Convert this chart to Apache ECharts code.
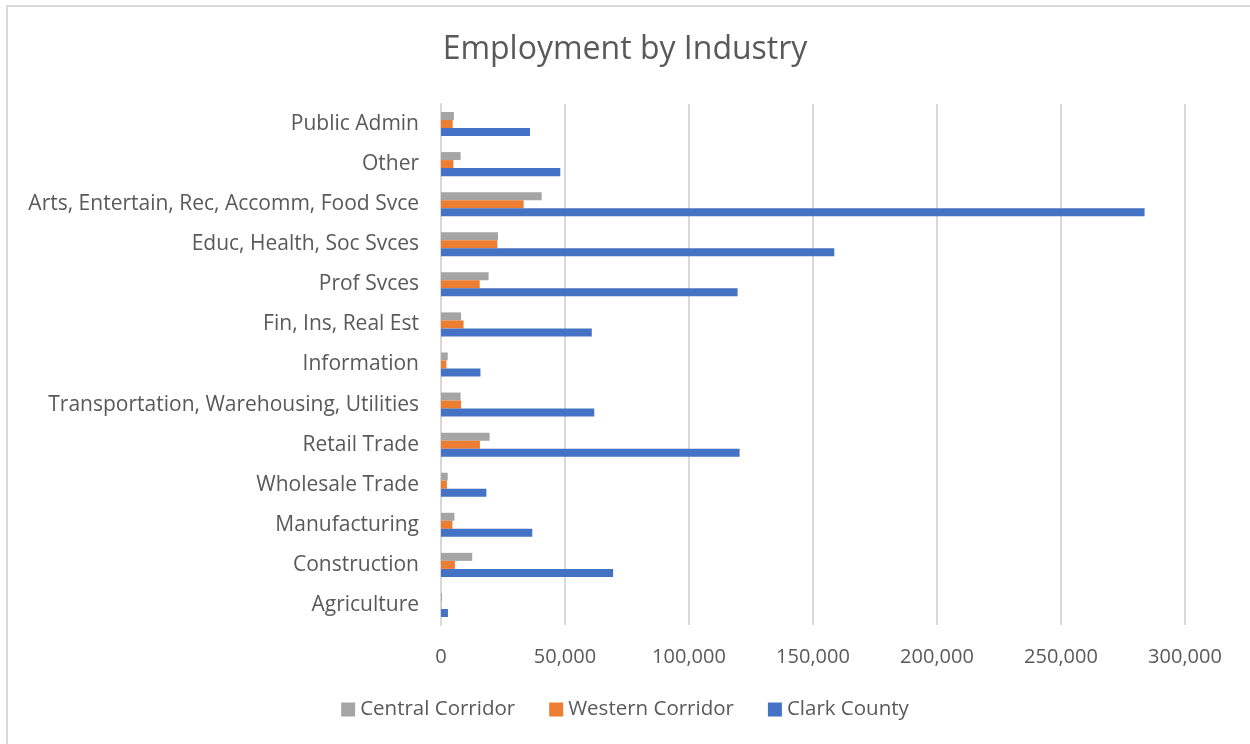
<!DOCTYPE html>
<html>
<head>
<meta charset="utf-8">
<script src="https://cdn.jsdelivr.net/npm/echarts@6/dist/echarts.min.js"></script>
<style>
  html, body { margin: 0; padding: 0; background: #fff; }
  #frame { position: absolute; left: 6px; top: 5px; width: 1280px; height: 780px; border: 2px solid #d9d9d9; box-sizing: border-box; }
  #chart { position: absolute; left: 0; top: 0; width: 1250px; height: 744px; }
</style>
</head>
<body>
<div id="frame"></div>
<div id="chart"></div>
<script>
// categories bottom -> top
const industries = [
  'Agriculture', 'Construction', 'Manufacturing', 'Wholesale Trade', 'Retail Trade',
  'Transportation, Warehousing, Utilities', 'Information', 'Fin, Ins, Real Est',
  'Prof Svces', 'Educ, Health, Soc Svces', 'Arts, Entertain, Rec, Accomm, Food Svce',
  'Other', 'Public Admin'
];
const centralCorridor = [400, 12600, 5400, 2700, 19600, 7900, 2700, 8100, 19200, 23000, 40600, 7900, 5200];
const westernCorridor = [100, 5600, 4600, 2400, 15700, 8100, 2200, 9100, 15600, 22700, 33300, 5000, 4700];
const clarkCounty = [2800, 69400, 36800, 18300, 120400, 61800, 15900, 60800, 119600, 158600, 283700, 48100, 35900];

const font = '"Open Sans", Lato, sans-serif';
const txt = '#595959';

const chart = echarts.init(document.getElementById('chart'));
chart.setOption({
  animation: false,
  title: {
    text: 'Employment by Industry',
    left: 'center',
    top: 29,
    textStyle: { fontFamily: font, fontSize: 32, fontWeight: 'normal', color: txt }
  },
  legend: {
    data: ['Central Corridor', 'Western Corridor', 'Clark County'],
    bottom: 19,
    left: 'center',
    icon: 'rect',
    itemWidth: 14,
    itemHeight: 14,
    itemGap: 34,
    textStyle: { fontFamily: font, fontSize: 20.5, color: txt }
  },
  grid: { left: 441, right: 65, top: 104, bottom: 119, containLabel: false },
  xAxis: {
    type: 'value',
    min: 0,
    max: 300000,
    interval: 50000,
    axisLine: { show: false },
    axisTick: { show: false },
    splitLine: { lineStyle: { color: '#d9d9d9', width: 2 } },
    axisLabel: {
      margin: 22,
      fontFamily: font, fontSize: 20, color: txt,
      formatter: v => v.toLocaleString('en-US')
    }
  },
  yAxis: {
    type: 'category',
    data: industries,
    axisLine: { lineStyle: { color: '#d9d9d9', width: 2 } },
    axisTick: { show: false },
    axisLabel: { margin: 22, fontFamily: font, fontSize: 21, color: txt }
  },
  series: [
    { name: 'Central Corridor', type: 'bar', data: centralCorridor, itemStyle: { color: '#a5a5a5' }, barGap: '0%', barCategoryGap: '40%' },
    { name: 'Western Corridor', type: 'bar', data: westernCorridor, itemStyle: { color: '#ed7d31' }, barGap: '0%', barCategoryGap: '40%' },
    { name: 'Clark County', type: 'bar', data: clarkCounty, itemStyle: { color: '#4472c4' }, barGap: '0%', barCategoryGap: '40%' }
  ]
});
</script>
</body>
</html>
